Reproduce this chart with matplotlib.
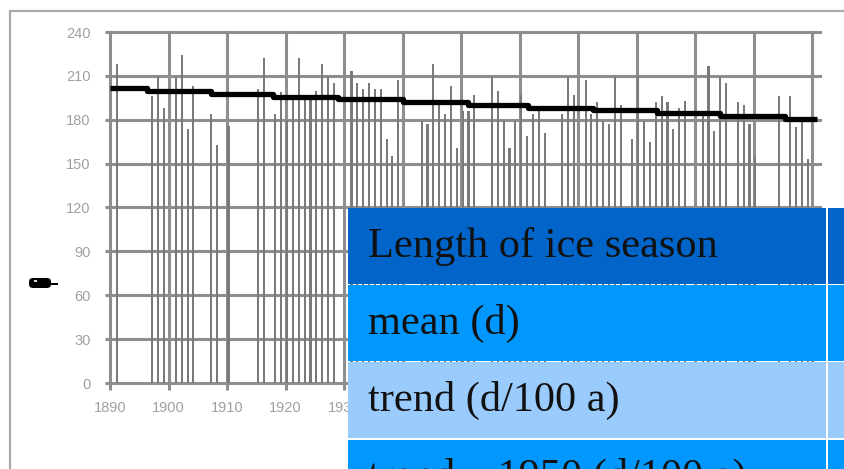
import matplotlib
matplotlib.use("Agg")
import matplotlib.pyplot as plt
from matplotlib.patches import Rectangle, FancyBboxPatch
from matplotlib.transforms import IdentityTransform
import numpy as np

# Length of the ice season per winter (days)
years = [1891, 1897, 1898, 1899, 1901, 1902, 1903, 1904, 1907, 1908, 1910,
         1915, 1916, 1918, 1919, 1920, 1921, 1922, 1923, 1924, 1925, 1926,
         1927, 1928, 1931, 1932, 1933, 1934, 1935, 1936, 1937, 1938, 1939,
         1943, 1944, 1945, 1946, 1947, 1948, 1949, 1950, 1951, 1952, 1955,
         1956, 1957, 1958, 1959, 1960, 1961, 1962, 1963, 1964, 1967, 1968,
         1969, 1971, 1972, 1973, 1974, 1975, 1976, 1977, 1979, 1980, 1981,
         1982, 1983, 1984, 1985, 1986, 1987, 1988, 1991, 1992, 1993, 1994,
         1995, 1997, 1998, 1999, 2000, 2004, 2006, 2007, 2008, 2009]
season_days = [218, 196, 209, 188, 209, 224, 174, 203, 184, 163, 176,
               201, 222, 184, 199, 180, 197, 222, 197, 197, 200, 218,
               210, 205, 213, 205, 201, 205, 201, 201, 167, 155, 207,
               179, 177, 218, 190, 184, 203, 161, 186, 186, 197, 209,
               200, 179, 161, 179, 197, 169, 184, 186, 171, 184, 209,
               197, 207, 184, 192, 179, 177, 209, 190, 167, 210, 179,
               165, 192, 196, 192, 174, 188, 193, 183, 217, 172, 209,
               205, 192, 190, 177, 155, 196, 196, 175, 179, 153]

# Linear trend as plotted (stepped rendering)
trend_edges = [1890, 1896.3, 1907.25, 1917.8, 1928.9, 1940.05, 1951.15,
               1961.4, 1972.5, 1983.4, 1994.2, 2005.3, 2010.8]
trend_days = [201.4, 199.7, 197.6, 195.7, 194.1, 191.9, 190.1, 188.2,
              186.7, 184.3, 182.6, 180.6]

y_ticks = [0, 30, 60, 90, 120, 150, 180, 210, 240]
x_ticks = [1890, 1900, 1910, 1920, 1930, 1940, 1950, 1960, 1970, 1980,
           1990, 2000, 2010]
# year labels to the right of 1930 sit under the statistics table
x_tick_labels = ["1890", "1900", "1910", "1920", "1930", "", "", "", "", "",
                 "", "", ""]

table_rows = ["Length of ice season", "mean (d)", "trend (d/100 a)",
              "trend – 1950 (d/100 a)"]
table_colors = ["#0064c8", "#0098fe", "#9acbfd", "#0098fe"]

W, H = 845, 469
fig = plt.figure(figsize=(W / 100, H / 100), dpi=100)
fig.patch.set_facecolor("white")


def fx(px):
    return px / W


def fy(py):
    return 1 - py / H


GRID = "#8e8e8e"
BAR = "#7a7a7a"
LABEL = "#a0a0a0"

# outer chart frame
fig.add_artist(Rectangle((fx(10), fy(480)), fx(850) - fx(10), fy(11) - fy(480),
                         transform=fig.transFigure, fill=False,
                         edgecolor="#a9a9a9", linewidth=1.6))

ax = fig.add_axes([fx(110), fy(383), fx(820) - fx(110), fy(32) - fy(383)])
ax.set_xlim(1890, 2011.3)
ax.set_ylim(0, 240)
ax.set_xticks(x_ticks)
ax.set_xticklabels(x_tick_labels)
ax.set_yticks(y_ticks)
for s in ax.spines.values():
    s.set_visible(False)
ax.grid(True, color=GRID, linewidth=2.2)
for gl in ax.get_xgridlines() + ax.get_ygridlines():
    gl.set_clip_on(False)
ax.set_axisbelow(True)
ax.tick_params(axis="both", direction="out", color=GRID, width=2.2,
               labelcolor=LABEL, labelsize=10.5)
ax.tick_params(axis="y", length=3.6, pad=10.5)
ax.tick_params(axis="x", length=5.0, pad=8.0)
for lab in ax.get_xticklabels() + ax.get_yticklabels():
    lab.set_fontfamily("Liberation Sans")

ax.bar(np.array(years) + 0.25, season_days, width=0.36, color=BAR,
       linewidth=0, zorder=2)
ax.plot(trend_edges, trend_days + [trend_days[-1]], drawstyle="steps-post",
        color="black", linewidth=3.8, solid_capstyle="butt", zorder=3)

# axis title marker on the left
fig.add_artist(FancyBboxPatch((29, H - 288), 22, 10,
                              boxstyle="round,pad=0,rounding_size=4",
                              transform=IdentityTransform(),
                              facecolor="black", edgecolor="none"))
fig.add_artist(Rectangle((50, H - 285), 8, 2, transform=IdentityTransform(),
                         facecolor="black", edgecolor="none"))
fig.add_artist(Rectangle((34, H - 282), 3, 2, transform=IdentityTransform(),
                         facecolor="#dddddd", edgecolor="none"))

# statistics table overlay
row_top = 208.0
row_h = 75.6
gap = 1.6
for i, (label, col) in enumerate(zip(table_rows, table_colors)):
    top = row_top + i * (row_h + gap)
    fig.add_artist(Rectangle((fx(348), fy(top + row_h)), fx(826) - fx(348),
                             fy(top) - fy(top + row_h),
                             transform=fig.transFigure, facecolor=col,
                             edgecolor="none"))
    fig.add_artist(Rectangle((fx(828), fy(top + row_h)), fx(860) - fx(828),
                             fy(top) - fy(top + row_h),
                             transform=fig.transFigure, facecolor=col,
                             edgecolor="none"))
    fig.text(fx(368), fy(top + 48.7), label, fontfamily="Liberation Serif",
             fontsize=30.5, color="#111111", va="baseline", ha="left")

fig.savefig("out.png", dpi=100, facecolor="white")
